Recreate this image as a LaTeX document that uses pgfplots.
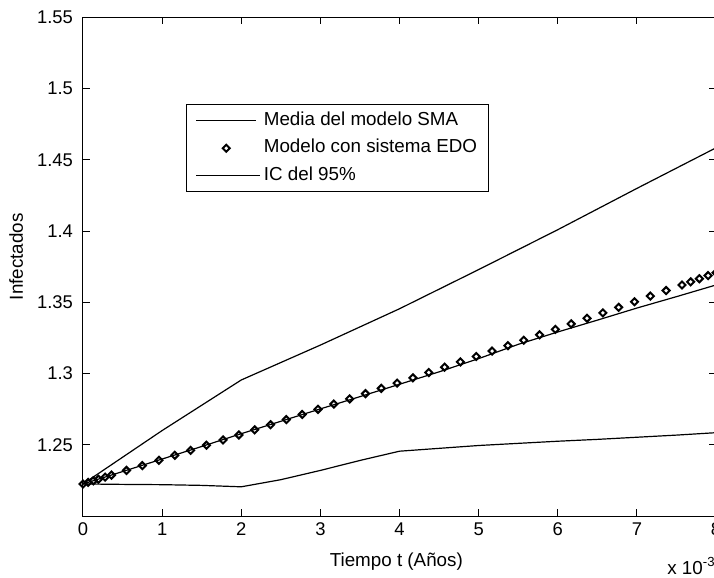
\documentclass[border=0pt]{standalone}
\usepackage{pgfplots}
\pgfplotsset{compat=1.18}
\usepackage{fontspec}
\setmainfont{Liberation Sans}
\pgfplotsset{
  linelegA/.style={legend image code/.code={\draw[##1] (0pt,0pt) -- (30pt,0pt);}},
  linelegB/.style={legend image code/.code={\draw[##1] (0pt,0pt) -- (32pt,0pt);}},
  markleg/.style={legend image code/.code={\path (0pt,0pt) (30pt,0pt); \draw[mark repeat=2,mark phase=2,##1] plot coordinates {(0pt,0pt) (15pt,0pt) (30pt,0pt)};}},
}
\begin{document}
\begin{tikzpicture}
\begin{axis}[
 scale only axis, width=316.5pt, height=249.25pt,
 xmin=0, xmax=8, ymin=1.2, ymax=1.55,
 clip=false,
 xtick={0,1,2,3,4,5,6,7,8}, xticklabels={0,1,2,3,4,5,6,7,8},
 ytick={1.25,1.3,1.35,1.4,1.45,1.5,1.55},
 yticklabels={1.25,1.3,1.35,1.4,1.45,1.5,1.55},
 /pgf/number format/assume math mode=true,
 tick align=inside, major tick length=3.5pt,
 tick style={black, line width=0.5pt},
 axis line style={line width=0.5pt},
 ticklabel style={font=\fontsize{9.2}{10}\selectfont},
 yticklabel style={xshift=-1.5pt},
 xlabel={Tiempo t (Años)},
 ylabel={Infectados},
 every axis x label/.style={at={(axis description cs:0.495,0)}, anchor=base, yshift=-25pt, font=\fontsize{9.4}{11}\selectfont},
 every axis y label/.style={at={(axis description cs:-0.095,0.52)}, rotate=90, anchor=base, font=\fontsize{9.4}{11}\selectfont},
 legend style={at={(0.163,0.826)}, anchor=north west, draw=black, line width=0.5pt, fill=white,
   font=\fontsize{9.4}{11}\selectfont, inner xsep=4.5pt, inner ysep=2.3pt,
   row sep=2.35pt, column sep=0.5pt,
   nodes={inner sep=1pt, text height=7pt, text depth=2.4pt}},
 legend cell align=left,
]
\coordinate (sw) at (rel axis cs:0,0);
\coordinate (ne) at (rel axis cs:1,1);

% Media del modelo SMA
\addplot[black, line width=0.6pt, linelegA] coordinates {
(0,1.2225) (0.5,1.2312) (1,1.2400) (1.5,1.2488) (2,1.2578) (2.5,1.2665)
(3,1.2752) (3.5,1.2838) (4,1.2925) (4.5,1.3012) (5,1.3105) (5.5,1.3205)
(6,1.3292) (6.5,1.3375) (7,1.3460) (7.5,1.3540) (8,1.3622)
};
\addlegendentry{Media del modelo SMA}

% Modelo con sistema EDO
\addplot[black, only marks, mark=square, mark size=1.25pt,
  mark options={rotate=45, line width=1pt, fill=white}, markleg] coordinates {
(0,1.2225) (0.065,1.2236) (0.13,1.2247) (0.195,1.2258) (0.28,1.2273) (0.36,1.2287)
(0.55,1.2320) (0.75,1.2354) (0.96,1.2391) (1.16,1.2426) (1.36,1.2461) (1.56,1.2497)
(1.77,1.2534) (1.97,1.2569) (2.17,1.2605) (2.37,1.2641) (2.57,1.2677) (2.77,1.2713)
(2.97,1.2749) (3.17,1.2786) (3.37,1.2822) (3.57,1.2859) (3.77,1.2896) (3.97,1.2933)
(4.17,1.2970) (4.37,1.3007) (4.57,1.3045) (4.77,1.3082) (4.97,1.3120) (5.17,1.3158)
(5.37,1.3196) (5.57,1.3234) (5.77,1.3272) (5.97,1.3310) (6.17,1.3349) (6.37,1.3388)
(6.57,1.3426) (6.77,1.3465) (6.97,1.3504) (7.17,1.3544) (7.37,1.3583) (7.57,1.3622)
(7.68,1.3644) (7.79,1.3666) (7.90,1.3688) (8.0,1.3708)
};
\addlegendentry{Modelo con sistema EDO}

% IC del 95% (upper)
\addplot[black, line width=0.6pt, linelegB] coordinates {
(0,1.2225) (1,1.2600) (2,1.2955) (3,1.3200) (4,1.3455) (5,1.3730)
(6,1.4010) (7,1.4300) (8,1.4585)
};
\addlegendentry{IC del 95\%}

% IC del 95% (lower)
\addplot[black, line width=0.6pt, forget plot] coordinates {
(0,1.2225) (0.5,1.2222) (1,1.2220) (1.5,1.2215) (2,1.2205) (2.5,1.2255)
(3,1.2320) (3.5,1.2390) (4,1.2455) (4.5,1.2475) (5,1.2495) (5.5,1.2510)
(6,1.2525) (6.5,1.2538) (7,1.2553) (7.5,1.2568) (8,1.2585)
};

\node[anchor=base east, inner sep=0pt, yshift=-29pt, font=\fontsize{9.4}{11}\selectfont]
  at (rel axis cs:1,0) {x 10\textsuperscript{-3}};
\end{axis}
\pgfresetboundingbox
\useasboundingbox ([xshift=-41.5pt,yshift=-30.5pt]sw) rectangle ([xshift=-1pt,yshift=8.75pt]ne);
\end{tikzpicture}
\end{document}
